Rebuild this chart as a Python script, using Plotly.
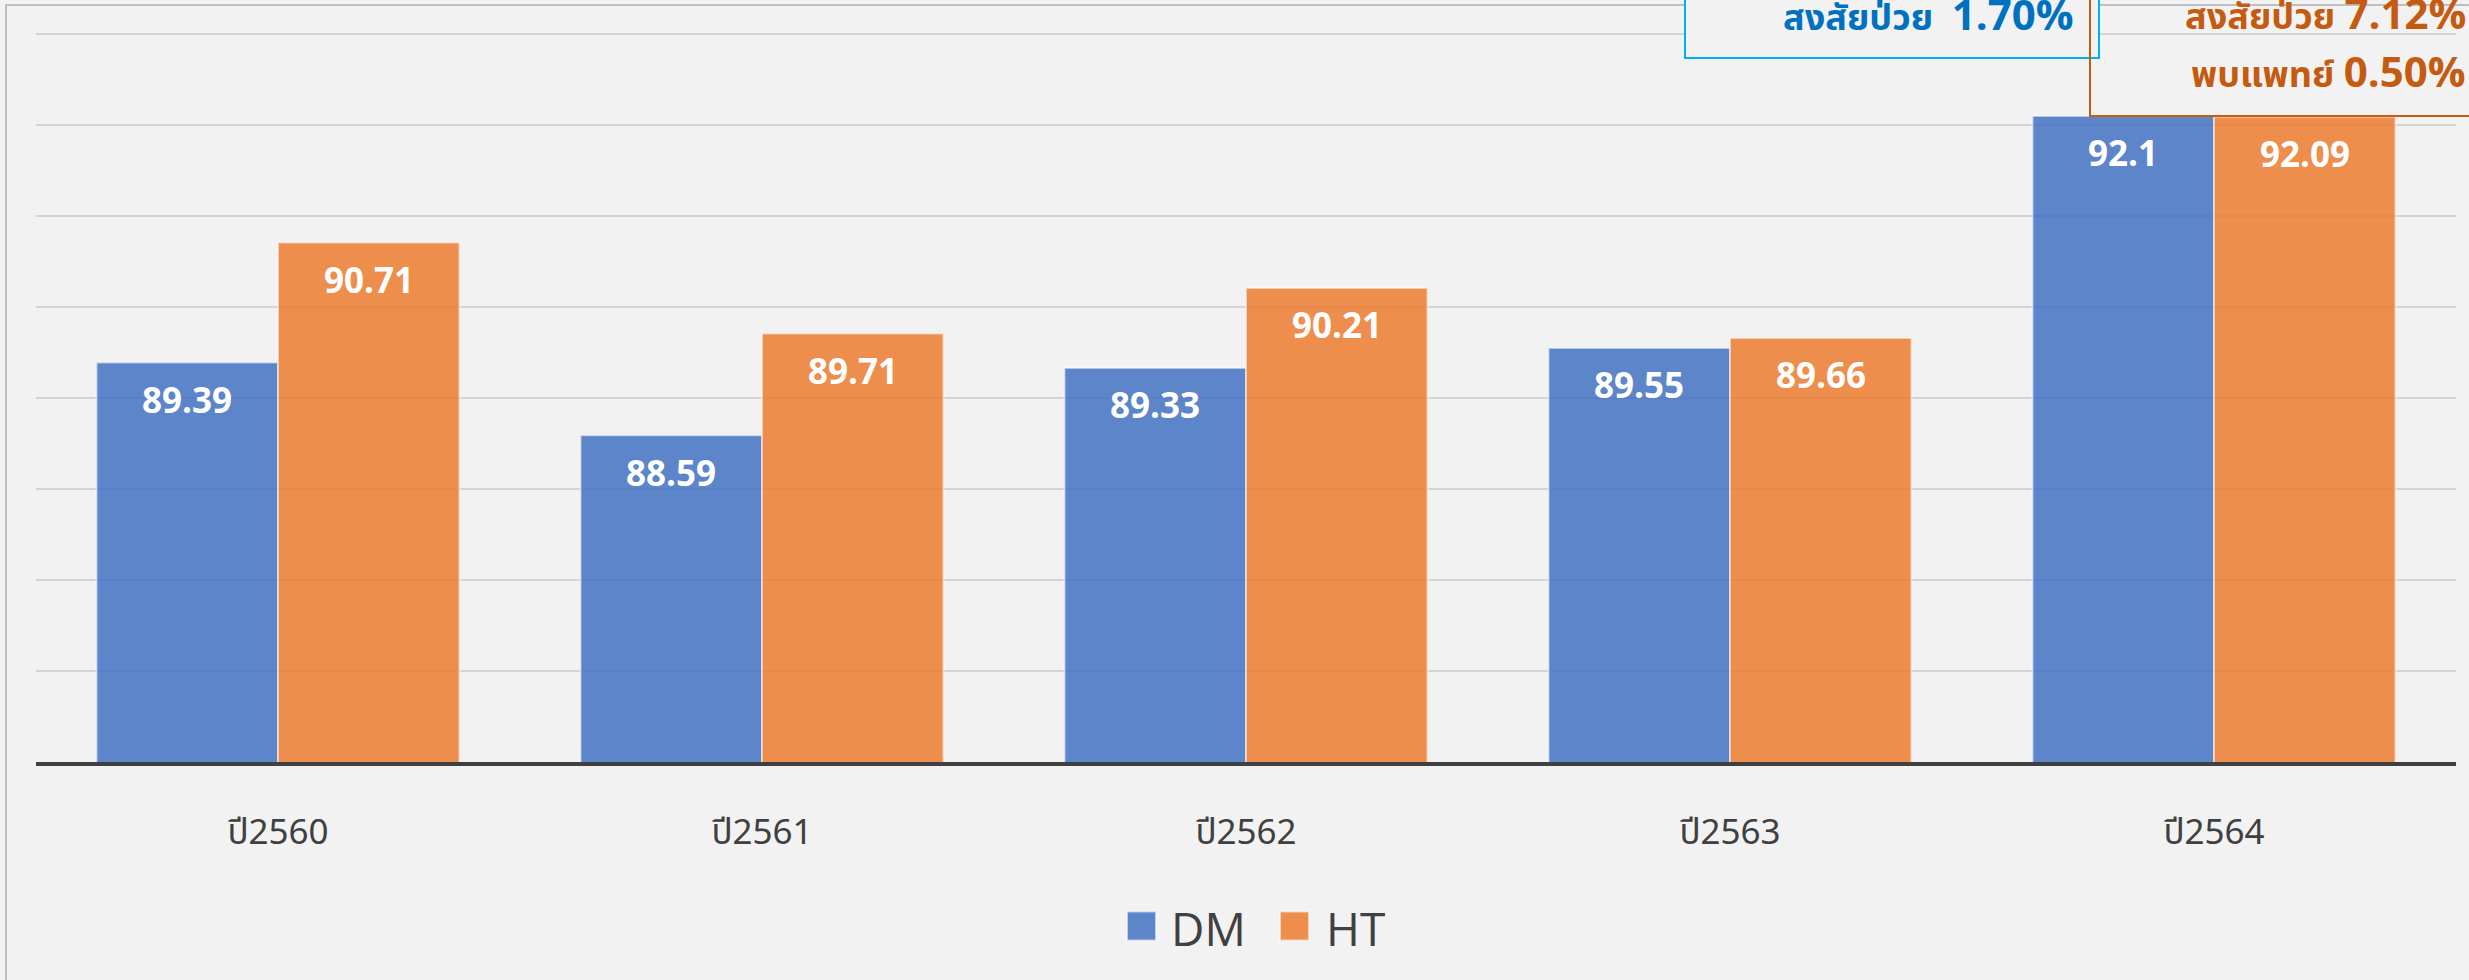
import plotly.graph_objects as go

# ---- data ----
categories = ["ปี2560", "ปี2561", "ปี2562", "ปี2563", "ปี2564"]
series_names = ["DM", "HT"]
dm_values = [89.39, 88.59, 89.33, 89.55, 92.1]
ht_values = [90.71, 89.71, 90.21, 89.66, 92.09]
y_min, y_max = 85, 93
note_dm = ["สงสัยป่วย  ", "1.70%"]
note_ht_1 = ["สงสัยป่วย ", "7.12%"]
note_ht_2 = ["พบแพทย์ ", "0.50%"]

# ---- style ----
W, H = 2469, 980
ML, MR, MT, MB = 36, W - 2456, 31, H - 762
BG = "#F2F2F2"
COLORS = ["#4472C4", "#ED7D31"]
OPACITY = 0.85
BARGAP = 0.25
FONT = "Open Sans, Noto Sans, Noto Sans Thai, sans-serif"
THAI_FONT = "Noto Sans Thai, Noto Sans, Open Sans, sans-serif"

plot_w = W - ML - MR
plot_h = H - MT - MB
unit_px = (762 - 34) / (y_max - y_min)          # pixels per axis unit
y_top = y_max + (34 - MT) / unit_px              # small headroom so the top gridline shows


def px(x):
    return (x - ML) / plot_w


def py(y):
    return (H - MB - y) / plot_h


xs = list(range(len(categories)))
series_values = [dm_values, ht_values]

fig = go.Figure()
for name, vals, col in zip(series_names, series_values, COLORS):
    fig.add_trace(go.Bar(
        x=xs, y=vals, name=name,
        marker=dict(color=col, line=dict(color="rgba(255,255,255,0.55)", width=2)),
        opacity=OPACITY, showlegend=False, hoverinfo="skip",
    ))

annotations = []
bar_w = (1 - BARGAP) / len(series_names)
for j, vals in enumerate(series_values):
    off = (j - (len(series_names) - 1) / 2) * bar_w
    for i, v in enumerate(vals):
        annotations.append(dict(
            x=i + off, y=v, xref="x", yref="y", text=f"<b>{v:g}</b>",
            showarrow=False, yanchor="middle", yshift=-37,
            font=dict(family=FONT, size=35, color="white"),
        ))

# callout texts
annotations.append(dict(
    x=px(2076), y=py(17), xref="paper", yref="paper", xanchor="right", yanchor="middle",
    text=f"<b>{note_dm[0]}</b><b><span style='font-size:42px'>{note_dm[1]}</span></b>",
    showarrow=False, font=dict(family=THAI_FONT, size=36, color="#0070C0"),
))
annotations.append(dict(
    x=px(2468), y=py(16), xref="paper", yref="paper", xanchor="right", yanchor="middle",
    text=f"<b>{note_ht_1[0]}</b><b><span style='font-size:42px'>{note_ht_1[1]}</span></b>",
    showarrow=False, font=dict(family=THAI_FONT, size=36, color="#C55A11"),
))
annotations.append(dict(
    x=px(2468), y=py(74), xref="paper", yref="paper", xanchor="right", yanchor="middle",
    text=f"<b>{note_ht_2[0]}</b><b><span style='font-size:42px'>{note_ht_2[1]}</span></b>",
    showarrow=False, font=dict(family=THAI_FONT, size=36, color="#C55A11"),
))

shapes = [
    # outer chart border
    dict(type="rect", xref="paper", yref="paper", x0=px(6), x1=px(2490), y0=py(1000), y1=py(5),
         line=dict(color="#BFBFBF", width=2), fillcolor="rgba(0,0,0,0)", layer="below"),
    # blue callout box
    dict(type="rect", xref="paper", yref="paper", x0=px(1685), x1=px(2099), y0=py(58), y1=py(-10),
         line=dict(color="#00B0F0", width=2), fillcolor=BG, layer="above"),
    # orange callout box
    dict(type="rect", xref="paper", yref="paper", x0=px(2090), x1=px(2490), y0=py(116), y1=py(-10),
         line=dict(color="#C55A11", width=2), fillcolor="rgba(0,0,0,0)", layer="above"),
]

# manual legend
legend_y = 926
legend_items_x = [(1127, 1173), (1280, 1328)]
for (mx, tx), name, col in zip(legend_items_x, series_names, COLORS):
    shapes.append(dict(type="rect", xref="paper", yref="paper",
                       x0=px(mx), x1=px(mx + 29), y0=py(legend_y + 14.5), y1=py(legend_y - 14.5),
                       fillcolor=col, opacity=OPACITY,
                       line=dict(color="rgba(255,255,255,0.6)", width=2)))
    annotations.append(dict(x=px(tx - 4), y=py(legend_y + 2), xref="paper", yref="paper",
                            xanchor="left", yanchor="middle", text=name, showarrow=False,
                            font=dict(family=FONT, size=46, color="#404040")))

fig.update_layout(
    width=W, height=H,
    margin=dict(l=ML, r=MR, t=MT, b=MB, pad=0),
    paper_bgcolor=BG, plot_bgcolor=BG,
    barmode="group", bargap=BARGAP, bargroupgap=0,
    showlegend=False,
    annotations=annotations, shapes=shapes,
    xaxis=dict(
        range=[-0.5, len(categories) - 0.5], tickmode="array", tickvals=xs, ticktext=categories,
        showgrid=False, zeroline=False, showline=True, linecolor="#404040", linewidth=4,
        ticks="", ticklabelstandoff=36,
        tickfont=dict(family=THAI_FONT, size=35, color="#404040"),
        fixedrange=True,
    ),
    yaxis=dict(
        range=[y_min, y_top], tick0=y_min, dtick=1, showticklabels=False, showgrid=True,
        gridcolor="#D4D4D4", gridwidth=2, zeroline=False, showline=False, fixedrange=True,
    ),
)

fig.write_html(
    "out.html",
    config={"displayModeBar": False},
    post_script="document.body.style.margin='0';document.body.style.overflow='hidden';",
)
